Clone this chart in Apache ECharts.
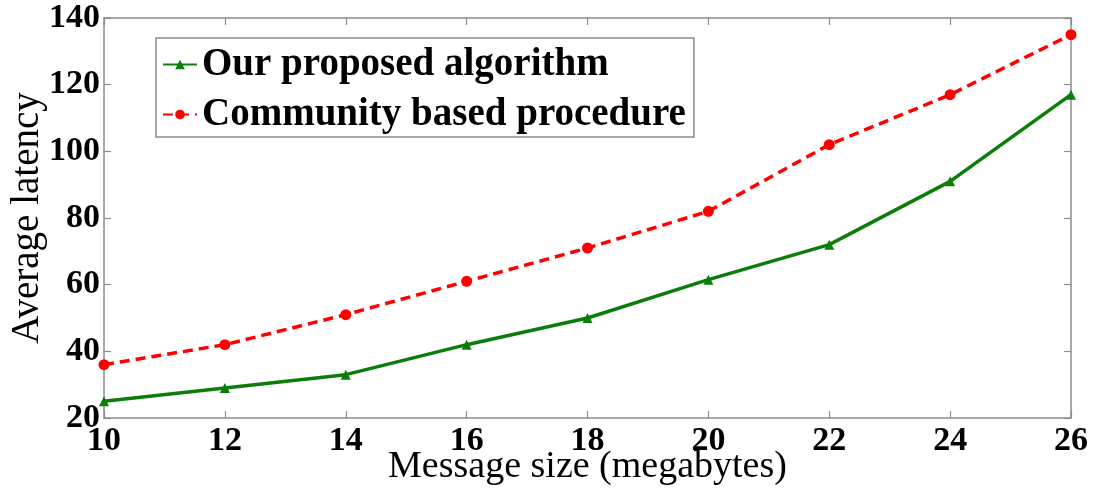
<!DOCTYPE html>
<html><head><meta charset="utf-8">
<script src="https://cdn.jsdelivr.net/npm/echarts@6/dist/echarts.min.js"></script>
<style>html,body{margin:0;padding:0;background:#fff}#c{width:1095px;height:495px}</style>
</head><body><div id="c"></div>
<script>
const messageSizes = [10, 12, 14, 16, 18, 20, 22, 24, 26];
const proposed = [25, 29, 33, 42, 50, 61.5, 72, 91, 117];
const community = [36, 42, 51, 61, 71, 82, 102, 117, 135];
const seriesNames = ['Our proposed algorithm', 'Community based procedure'];

const chart = echarts.init(document.getElementById('c'));
const serif = '"Liberation Serif", "DejaVu Serif", serif';
const frame = '#8c8c8c';
const axisCommon = {
  axisLine: {show: true, lineStyle: {color: frame, width: 1.5}},
  axisTick: {show: true, inside: true, length: 7, lineStyle: {color: frame, width: 1.2}},
  splitLine: {show: false}
};
chart.setOption({
  animation: false,
  backgroundColor: '#fff',
  grid: {left: 104, right: 24, top: 18, bottom: 77, outerBoundsMode: 'none', containLabel: false},
  legend: {
    left: 156, top: 38, orient: 'vertical',
    data: seriesNames,
    backgroundColor: '#fff', borderColor: frame, borderWidth: 1.5,
    padding: [7, 8, 3, 6], itemGap: 11, itemWidth: 34, itemHeight: 12,
    textStyle: {fontFamily: serif, fontWeight: 'bold', fontSize: 39, color: '#000'}
  },
  xAxis: [
    Object.assign({type: 'value', min: 10, max: 26, interval: 2, position: 'bottom',
      name: 'Message size (megabytes)', nameLocation: 'middle', nameGap: 30, nameMoveOverlap: false,
      nameTextStyle: {fontFamily: serif, fontSize: 38, color: '#000'},
      axisLabel: {fontFamily: serif, fontWeight: 'bold', fontSize: 34, color: '#000', margin: 6}}, axisCommon),
    Object.assign({type: 'value', min: 10, max: 26, interval: 2, position: 'top',
      axisLabel: {show: false}}, axisCommon)
  ],
  yAxis: [
    Object.assign({type: 'value', min: 20, max: 140, interval: 20, position: 'left',
      name: 'Average latency', nameLocation: 'middle', nameGap: 57, nameMoveOverlap: false,
      nameTextStyle: {fontFamily: serif, fontSize: 39, color: '#000'},
      axisLabel: {fontFamily: serif, fontWeight: 'bold', fontSize: 34, color: '#000', margin: 4}}, axisCommon),
    Object.assign({type: 'value', min: 20, max: 140, interval: 20, position: 'right',
      axisLabel: {show: false}}, axisCommon)
  ],
  series: [
    {name: seriesNames[0], type: 'line', xAxisIndex: 0, yAxisIndex: 0,
     data: messageSizes.map((x, i) => [x, proposed[i]]),
     symbol: 'triangle', symbolSize: 10,
     lineStyle: {color: '#0a7d0a', width: 3.5}, itemStyle: {color: '#0a7d0a'}},
    {name: seriesNames[1], type: 'line', xAxisIndex: 0, yAxisIndex: 0,
     data: messageSizes.map((x, i) => [x, community[i]]),
     symbol: 'circle', symbolSize: 11,
     lineStyle: {color: '#ff0000', width: 3.5, type: [10, 6]}, itemStyle: {color: '#ff0000'}}
  ]
});
</script></body></html>
